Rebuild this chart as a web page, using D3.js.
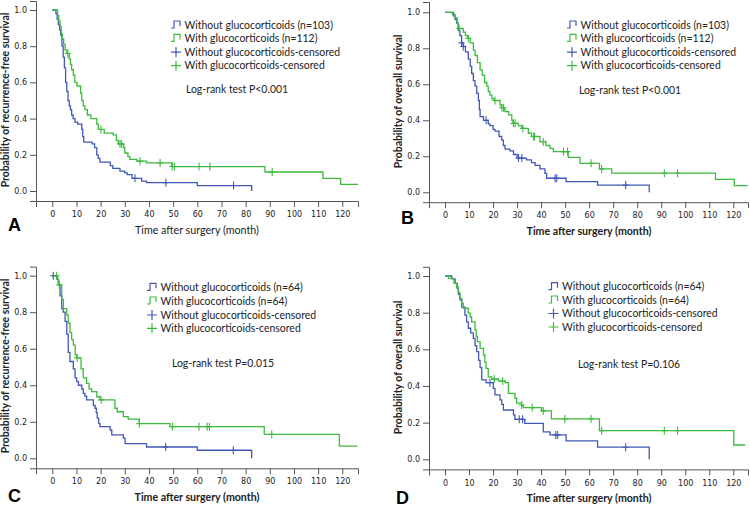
<!DOCTYPE html>
<html><head><meta charset="utf-8">
<script src="https://cdn.jsdelivr.net/npm/d3@7"></script>
<style>body{margin:0;background:#fff}</style>
</head><body>
<svg id="c" width="750" height="510"></svg>
<script>
// ---------- texts / ticks ----------
const monthTicks = [0,10,20,30,40,50,60,70,80,90,100,110,120];
const probTicks = [0,0.2,0.4,0.6,0.8,1.0];
const panelLetters = ["A","B","C","D"];
const yTitles = ["Probability of recurrence-free survival","Probability of overall survival",
                 "Probability of recurrence-free survival","Probability of overall survival"];
const xTitle = "Time after surgery (month)";
const legendTop = ["Without glucocorticoids (n=103)","With glucocorticoids (n=112)",
                   "Without glucocorticoids-censored","With glucocorticoids-censored"];
const legendBottom = ["Without glucocorticoids (n=64)","With glucocorticoids (n=64)",
                      "Without glucocorticoids-censored","With glucocorticoids-censored"];
const logRank = ["Log-rank test P<0.001","Log-rank test P<0.001","Log-rank test P=0.015","Log-rank test P=0.106"];

// ---------- data: [month, survival probability] ----------
const withoutA = [[0,1],[1.5,0.98],[2,0.95],[2.5,0.92],[3,0.89],[3.5,0.86],[4,0.8],[4.5,0.74],[5,0.68],[5.5,0.6],[6,0.55],[6.5,0.5],[7,0.47],[7.5,0.45],[8,0.42],[8.6,0.4],[9.4,0.38],[10.5,0.37],[12.2,0.34],[12.6,0.3],[13,0.27],[16.5,0.26],[17.5,0.24],[18.4,0.2],[19,0.18],[19.7,0.16],[24,0.14],[25,0.125],[28,0.11],[30,0.1],[31,0.09],[33,0.07],[37,0.055],[39,0.046],[60,0.03],[82.5,0]];
const withoutACens = [[34.2,0.07],[47,0.046],[75,0.03]];
const withA = [[0,1],[1.8,1],[2.2,0.97],[2.7,0.94],[3.2,0.91],[3.7,0.87],[4.2,0.84],[4.7,0.81],[5.3,0.78],[6,0.76],[7,0.73],[7.5,0.7],[8,0.67],[8.7,0.64],[9.3,0.6],[10.2,0.58],[11.7,0.54],[12.2,0.5],[12.8,0.47],[13.5,0.45],[14.5,0.42],[16,0.4],[18.4,0.37],[19,0.34],[21.5,0.32],[25.2,0.31],[26.5,0.28],[27.3,0.26],[29.5,0.24],[30,0.21],[31.3,0.19],[32.1,0.175],[35,0.165],[39,0.155],[49.5,0.135],[88,0.105],[112,0.07],[119.3,0.037],[126.5,0.037]];
const withACens = [[6.4,0.76],[20.1,0.34],[28,0.26],[28.7,0.26],[36.3,0.165],[44.6,0.155],[49.6,0.135],[50.5,0.135],[60.7,0.135],[65.2,0.135],[91,0.105]];

const withoutB = [[0,1],[3.5,0.98],[4.2,0.96],[4.9,0.94],[5.5,0.9],[6.2,0.87],[6.9,0.83],[7.6,0.81],[8.5,0.78],[9.7,0.74],[10.5,0.7],[11.1,0.66],[11.8,0.62],[12.5,0.59],[13.2,0.55],[13.9,0.51],[14.3,0.46],[14.6,0.42],[16,0.4],[18,0.38],[18.7,0.37],[20,0.35],[20.8,0.34],[22.5,0.31],[23.6,0.29],[24.3,0.26],[25,0.24],[27,0.23],[28.5,0.21],[30,0.19],[33.9,0.18],[36,0.165],[37.5,0.15],[39.5,0.13],[41.6,0.105],[42.3,0.078],[50.4,0.059],[63.5,0.04],[85,0]];
const withoutBCens = [[6.9,0.83],[7.6,0.81],[17.1,0.4],[30.6,0.19],[32,0.19],[45.8,0.078],[46.5,0.078],[75.2,0.04]];
const withB = [[0,1],[3,0.99],[4.2,0.97],[5,0.94],[5.5,0.91],[7.6,0.89],[8.5,0.87],[9.5,0.855],[10.5,0.83],[11.8,0.79],[12.5,0.76],[13.5,0.72],[14.6,0.68],[15.5,0.65],[16.5,0.61],[17.4,0.59],[18,0.56],[18.7,0.54],[19.5,0.52],[20.5,0.51],[22.9,0.485],[23.5,0.47],[24.5,0.46],[25,0.448],[26.5,0.43],[27.8,0.4],[28.3,0.383],[30.5,0.37],[31.9,0.355],[34.7,0.328],[36,0.31],[39.5,0.281],[42,0.26],[43.7,0.244],[45.1,0.226],[51.3,0.194],[56.2,0.161],[64.3,0.13],[69.4,0.106],[112.6,0.072],[120.4,0.037],[126,0.037]];
const withBCens = [[5.9,0.91],[9.7,0.855],[20.8,0.51],[23.7,0.47],[24.4,0.47],[28.5,0.383],[29.2,0.383],[32.4,0.355],[36.9,0.31],[37.3,0.31],[40.9,0.281],[49.3,0.226],[51,0.226],[60.8,0.161],[65.2,0.13],[91.3,0.106],[96.8,0.106]];

const withoutC = [[0,1],[2,0.98],[2.5,0.95],[3.2,0.89],[3.9,0.82],[4.5,0.8],[5.3,0.75],[6,0.68],[6.6,0.58],[7.3,0.53],[8.7,0.49],[9.4,0.44],[10.1,0.42],[10.8,0.4],[12.2,0.38],[12.8,0.356],[13.5,0.34],[14.2,0.32],[17,0.29],[17.7,0.274],[18.2,0.25],[18.6,0.22],[19.2,0.19],[19.7,0.173],[23.9,0.155],[24.6,0.128],[29.4,0.11],[30.1,0.08],[39,0.062],[60,0.044],[82.5,0]];
const withoutCCens = [[0.4,1],[46.9,0.062],[74.9,0.044]];
const withC = [[0,1],[2.2,0.98],[2.6,0.95],[3.9,0.87],[4.6,0.82],[6,0.785],[6.6,0.74],[7.3,0.69],[8,0.65],[8.7,0.62],[9.5,0.566],[10,0.55],[11.9,0.49],[12.8,0.44],[14.2,0.41],[15.2,0.38],[16.3,0.365],[18.4,0.337],[19.7,0.32],[25.9,0.274],[26.9,0.255],[29.4,0.228],[31.4,0.215],[36,0.19],[48.7,0.173],[87.7,0.131],[118.8,0.067],[126.2,0.067]];
const withCCens = [[1.8,1],[2.9,0.95],[10.3,0.55],[20.2,0.32],[36,0.19],[49.7,0.173],[60.7,0.173],[64.1,0.173],[65,0.173],[90.8,0.131]];

const withoutD = [[0,1],[2.8,0.984],[4.2,0.96],[5.1,0.933],[5.6,0.9],[6.2,0.87],[7,0.83],[8.3,0.787],[9,0.75],[9.7,0.715],[10.7,0.69],[11.8,0.66],[12.5,0.62],[13.2,0.587],[14,0.54],[14.6,0.5],[15.3,0.433],[17.1,0.418],[20.1,0.387],[20.8,0.351],[22.9,0.324],[23.6,0.3],[24.3,0.269],[28.5,0.242],[29.1,0.218],[33.2,0.196],[40.9,0.15],[43.7,0.133],[50.4,0.1],[63.5,0.066],[85,0]];
const withoutDCens = [[18.7,0.418],[30.9,0.218],[32.3,0.218],[46.1,0.133],[46.9,0.133],[75.2,0.066]];
const withD = [[0,1],[1.4,0.987],[3.7,0.96],[4.9,0.94],[5.5,0.91],[6.2,0.878],[7,0.85],[7.6,0.824],[9.7,0.797],[10.5,0.775],[11.1,0.75],[12.5,0.705],[13,0.67],[13.5,0.642],[14.6,0.605],[16,0.569],[16.6,0.53],[17.1,0.496],[18,0.45],[19.4,0.438],[22.2,0.427],[25,0.418],[26.4,0.36],[29.1,0.333],[29.8,0.306],[31.9,0.296],[32.6,0.282],[40.2,0.264],[44.3,0.22],[64.3,0.156],[120.2,0.078],[125,0.078]];
const withDCens = [[20.5,0.438],[24,0.427],[31.9,0.296],[36.3,0.282],[40.9,0.264],[49.9,0.22],[60.8,0.22],[65.2,0.156],[91.3,0.156],[96.8,0.156]];

const blue = "#4158b8", green = "#3dbb3d";

// ---------- layout (pixels) ----------
const panels = [
  {without:withoutA, wc:withoutACens, with:withA, gc:withACens, legend:legendTop,
   left:36, right:358, x0:52.3, x120:342.3, y0:191, y1:10, top:1, bottom:201,
   lx:171, ly:[25,38.4,52.2,65.7], px:186, py:89, letX:8, letY:231, tX:197, tY:233.5, tBold:false, yTX:8.5, yTY:100},
  {without:withoutB, wc:withoutBCens, with:withB, gc:withBCens, legend:legendTop,
   left:429, right:748, x0:445, x120:733.3, y0:192.3, y1:12.3, top:2, bottom:202.2,
   lx:567, ly:[25,38.4,52.2,65.7], px:579, py:90, letX:401, letY:223.5, tX:589, tY:234.5, tBold:true, yTX:402, yTY:101.5},
  {without:withoutC, wc:withoutCCens, with:withC, gc:withCCens, legend:legendBottom,
   left:36, right:358, x0:52.3, x120:342.3, y0:458.3, y1:275.7, top:266.6, bottom:468.3,
   lx:147, ly:[287.3,301,315,328.3], px:172, py:363.3, letX:8, letY:501.5, tX:197, tY:500.5, tBold:true, yTX:8.5, yTY:366},
  {without:withoutD, wc:withoutDCens, with:withD, gc:withDCens, legend:legendBottom,
   left:429, right:748, x0:445, x120:733.3, y0:459.3, y1:276, top:266.8, bottom:469.4,
   lx:548.5, ly:[286.7,300,313.5,327],  px:578, py:364.3, letX:396, letY:504, tX:589, tY:501.5, tBold:true, yTX:402, yTY:367.5}
];

const svg = d3.select("#c");
const axisCol = "#555", txtCol = "#222";

// font size that makes a text a given width
function fitSize(text, family, weight, width){
  const t = svg.append("text").attr("font-family",family).attr("font-weight",weight).attr("font-size",10).text(text);
  const w = t.node().getComputedTextLength(); t.remove();
  return 10*width/w;
}
const legendSize = fitSize("Without glucocorticoids-censored","Lato","normal",156);
const yTitleSize = fitSize("Probability of recurrence-free survival","Lato","bold",175);
const xTitleSizeN = fitSize(xTitle,"Lato","normal",124);
const xTitleSizeB = fitSize(xTitle,"Lato","bold",125);

panels.forEach((p,i) => {
  const base = d3.scaleLinear().domain([0,120]).range([p.x0,p.x120]);
  const x = d3.scaleLinear().domain([base.invert(p.left), base.invert(p.right)]).range([p.left,p.right]);
  const ybase = d3.scaleLinear().domain([0,1]).range([p.y0,p.y1]);
  const y = d3.scaleLinear().domain([ybase.invert(p.bottom), ybase.invert(p.top)]).range([p.bottom,p.top]);
  const g = svg.append("g");

  const xa = g.append("g").attr("transform",`translate(0,${p.bottom})`)
    .call(d3.axisBottom(x).tickValues(monthTicks).tickSizeOuter(0).tickSize(6).tickPadding(4.5).tickFormat(d3.format("d")));
  const ya = g.append("g").attr("transform",`translate(${p.left},0)`)
    .call(d3.axisLeft(y).tickValues(probTicks).tickSizeOuter(0).tickSize(6).tickPadding(3).tickFormat(d3.format(".1f")));
  [xa,ya].forEach(a=>{
    a.selectAll("path,line").attr("stroke",axisCol);
    a.selectAll("text").attr("fill",txtCol).attr("font-family","DejaVu Sans").attr("font-size",8);
  });

  const line = d3.line().x(d=>x(d[0])).y(d=>y(d[1])).curve(d3.curveStepAfter);
  [[p.without,blue],[p.with,green]].forEach(([data,c])=>{
    g.append("path").attr("d",line(data)).attr("fill","none").attr("stroke",c).attr("stroke-width",1.3);
  });
  [[p.wc,blue],[p.gc,green]].forEach(([data,c])=>{
    g.selectAll(null).data(data).enter().append("path")
      .attr("d",d=>`M${x(d[0])-3},${y(d[1])}h6M${x(d[0])},${y(d[1])-4}v8`)
      .attr("stroke",c).attr("stroke-width",1.1).attr("fill","none");
  });

  // legend
  const cols=[blue,green,blue,green];
  p.legend.forEach((t,k)=>{
    const cy=p.ly[k], ix=p.lx;
    if(k<2){
      g.append("path").attr("d",`M${ix},${cy+3}h3v-7h6v5`).attr("fill","none").attr("stroke",cols[k]).attr("stroke-width",1.2);
    } else {
      g.append("path").attr("d",`M${ix},${cy}h10M${ix+5},${cy-5}v10`).attr("fill","none").attr("stroke",cols[k]).attr("stroke-width",1.2);
    }
    g.append("text").attr("x",ix+13.5).attr("y",cy).attr("dy","0.35em").text(t)
      .attr("font-family","Lato").attr("font-size",legendSize).attr("fill",txtCol);
  });
  g.append("text").attr("x",p.px).attr("y",p.py).attr("dy","0.35em").text(logRank[i])
    .attr("font-family","Lato").attr("font-size",legendSize).attr("fill",txtCol);

  // titles
  g.append("text").attr("x",p.tX).attr("y",p.tY).attr("text-anchor","middle").text(xTitle)
    .attr("font-family","Lato").attr("font-size",p.tBold?xTitleSizeB:xTitleSizeN).attr("font-weight",p.tBold?"bold":"normal").attr("fill",txtCol);
  g.append("text").attr("transform",`translate(${p.yTX},${p.yTY}) rotate(-90)`).attr("text-anchor","middle").text(yTitles[i])
    .attr("font-family","Lato").attr("font-size",yTitleSize).attr("font-weight","bold").attr("fill",txtCol);
  g.append("text").attr("x",p.letX).attr("y",p.letY).text(panelLetters[i])
    .attr("font-family","Liberation Sans").attr("font-size",18).attr("font-weight","bold").attr("fill","#000");
});
</script>
</body></html>
